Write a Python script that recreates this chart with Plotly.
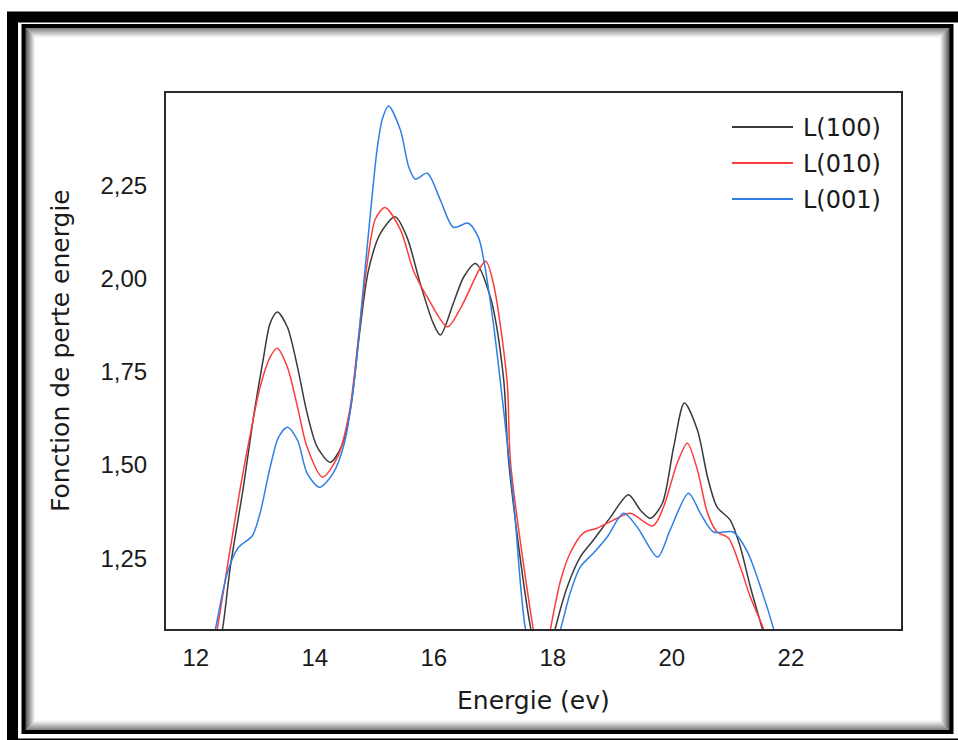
import plotly.graph_objects as go

# Energy-loss function L(E) along three crystallographic directions
x_100 = [12.30, 12.45, 12.58, 12.80, 12.97, 13.14, 13.25, 13.37, 13.54, 13.71, 13.87, 14.04,
         14.26, 14.45, 14.60, 14.75, 14.90, 15.10, 15.35, 15.55, 15.77, 15.99, 16.11, 16.33,
         16.50, 16.70, 16.95, 17.17, 17.26, 17.63, 17.85, 18.04, 18.24, 18.46, 18.68, 18.97,
         19.27, 19.47, 19.64, 19.84, 20.03, 20.21, 20.43, 20.60, 20.76, 20.98, 21.15, 21.32,
         21.52, 21.65]
y_100 = [0.95, 1.06, 1.226, 1.44, 1.628, 1.789, 1.88, 1.91, 1.869, 1.762, 1.639, 1.548,
         1.507, 1.55, 1.65, 1.85, 2.02, 2.12, 2.165, 2.11, 1.987, 1.88, 1.848, 1.934,
         2.003, 2.04, 1.95, 1.735, 1.505, 1.06, 0.92, 1.06, 1.172, 1.253, 1.298, 1.36,
         1.42, 1.379, 1.357, 1.397, 1.548, 1.666, 1.593, 1.467, 1.387, 1.352, 1.28, 1.172,
         1.06, 0.98]

x_010 = [12.22, 12.36, 12.53, 12.75, 12.92, 13.08, 13.25, 13.37, 13.54, 13.71, 13.87, 14.13,
         14.38, 14.58, 14.74, 14.88, 15.02, 15.18, 15.44, 15.66, 15.89, 16.23, 16.45, 16.87,
         17.00, 17.23, 17.29, 17.67, 17.82, 17.96, 18.13, 18.29, 18.51, 18.74, 19.02, 19.30,
         19.68, 19.86, 20.09, 20.26, 20.43, 20.60, 20.76, 20.95, 21.15, 21.32, 21.54, 21.67]
y_010 = [0.95, 1.06, 1.226, 1.44, 1.585, 1.708, 1.789, 1.813, 1.762, 1.655, 1.548, 1.467,
         1.52, 1.64, 1.85, 2.04, 2.16, 2.19, 2.13, 2.02, 1.95, 1.87, 1.92, 2.046,
         1.987, 1.727, 1.505, 1.06, 0.93, 1.06, 1.19, 1.263, 1.317, 1.33, 1.352, 1.37,
         1.336, 1.387, 1.505, 1.558, 1.486, 1.37, 1.32, 1.304, 1.226, 1.145, 1.06, 0.98]

x_001 = [12.18, 12.33, 12.53, 12.71, 12.95, 13.08, 13.25, 13.39, 13.54, 13.71, 13.87, 14.08,
         14.31, 14.50, 14.66, 14.80, 14.92, 15.05, 15.14, 15.24, 15.44, 15.58, 15.69, 15.89,
         16.11, 16.33, 16.58, 16.75, 16.83, 17.00, 17.12, 17.34, 17.54, 17.80, 18.13, 18.29,
         18.46, 18.68, 18.91, 19.19, 19.42, 19.76, 19.97, 20.28, 20.48, 20.70, 21.03, 21.26,
         21.49, 21.71, 21.85]
y_001 = [0.95, 1.06, 1.21, 1.277, 1.31, 1.37, 1.494, 1.574, 1.601, 1.566, 1.478, 1.44,
         1.478, 1.56, 1.72, 1.95, 2.15, 2.35, 2.43, 2.462, 2.397, 2.298, 2.266, 2.282,
         2.21, 2.137, 2.148, 2.11, 2.057, 1.88, 1.72, 1.405, 1.06, 0.90, 1.06, 1.156,
         1.226, 1.263, 1.306, 1.37, 1.333, 1.253, 1.325, 1.424, 1.37, 1.32, 1.32, 1.27,
         1.172, 1.06, 0.97]

series_names = ["L(100)", "L(010)", "L(001)"]
series_colors = ["#3a3a3a", "#ff3c3c", "#2f7fe6"]
x_ticks = [12, 14, 16, 18, 20, 22]
y_ticks = [1.25, 1.50, 1.75, 2.00, 2.25]

W, H = 958, 740
ML, MR, MT, MB = 166, 57, 93, 111


def px(x):
    return (x - ML) / (W - ML - MR)


def py(y):
    return (H - MB - y) / (H - MT - MB)


fig = go.Figure()
for xs, ys, name, color in zip([x_100, x_010, x_001], [y_100, y_010, y_001],
                               series_names, series_colors):
    fig.add_trace(go.Scatter(x=xs, y=ys, mode="lines", name=name,
                             line=dict(color=color, width=1.5, shape="spline", smoothing=0.8),
                             showlegend=False))

shapes = []
# outer heavy frame
shapes.append(dict(type="rect", xref="paper", yref="paper", layer="below",
                   x0=px(12.5), x1=px(975), y0=py(17), y1=py(744),
                   line=dict(color="black", width=11)))
# inset shadow of the inner frame
for i in range(10):
    g = int(80 + i * 18)
    g = min(g, 252)
    d = 2 + i
    shapes.append(dict(type="rect", xref="paper", yref="paper", layer="below",
                       x0=px(23.5 + d), x1=px(951.5 - d), y0=py(26 + d), y1=py(732 - d),
                       line=dict(color=f"rgb({g},{g},{g})", width=1.2)))
# inner frame
shapes.append(dict(type="rect", xref="paper", yref="paper", layer="below",
                   x0=px(23.5), x1=px(951.5), y0=py(26), y1=py(732),
                   line=dict(color="black", width=4)))

annotations = []
# legend drawn as short line samples with labels
for i, (name, color) in enumerate(zip(series_names, series_colors)):
    yc = 127 + i * 36
    shapes.append(dict(type="line", xref="paper", yref="paper",
                       x0=px(732), x1=px(793), y0=py(yc), y1=py(yc),
                       line=dict(color=color, width=2)))
    annotations.append(dict(xref="paper", yref="paper", x=px(801), y=py(yc + 1),
                            xanchor="left", yanchor="middle", showarrow=False,
                            text=name, font=dict(family="DejaVu Sans", size=24, color="#1a1a1a")))

annotations.append(dict(xref="paper", yref="paper", x=px(533), y=py(700),
                        xanchor="center", yanchor="middle", showarrow=False,
                        text="Energie (ev)",
                        font=dict(family="DejaVu Sans", size=25, color="#1a1a1a")))
annotations.append(dict(xref="paper", yref="paper", x=px(60), y=py(351),
                        xanchor="center", yanchor="middle", showarrow=False, textangle=-90,
                        text="Fonction de perte energie",
                        font=dict(family="DejaVu Sans", size=25, color="#1a1a1a")))

fig.update_layout(
    width=W, height=H,
    margin=dict(l=ML, r=MR, t=MT, b=MB, pad=0),
    paper_bgcolor="white", plot_bgcolor="white",
    separators=", ",
    shapes=shapes, annotations=annotations,
    xaxis=dict(range=[11.5, 23.85], tickvals=x_ticks, showgrid=False, zeroline=False,
               showline=True, mirror=True, linecolor="#2a2a2a", linewidth=2,
               ticks="", ticklabelstandoff=6,
               tickfont=dict(family="Liberation Sans", size=24, color="#1a1a1a")),
    yaxis=dict(range=[1.06, 2.497], tickvals=y_ticks, tickformat=".2f", showgrid=False,
               zeroline=False, showline=True, mirror=True, linecolor="#2a2a2a", linewidth=2,
               ticks="", ticklabelstandoff=12,
               tickfont=dict(family="Liberation Sans", size=24, color="#1a1a1a")),
)

fig.write_html("out.html")
